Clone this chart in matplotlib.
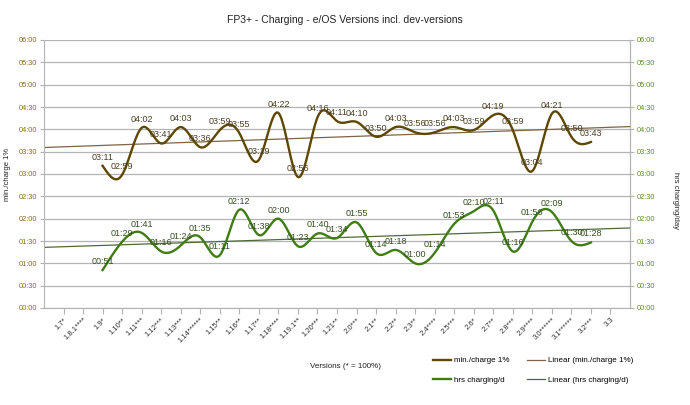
import numpy as np
import matplotlib
matplotlib.use("Agg")
import matplotlib.pyplot as plt
from matplotlib.ticker import FuncFormatter, MultipleLocator

plt.rcParams.update({
    "font.family": ["Liberation Sans", "DejaVu Sans"],
})

# Versions on the x axis
versions = ["1.7*", "1.8.1****", "1.9*", "1.10**", "1.11***", "1.12***", "1.13***",
            "1.14******", "1.15**", "1.16**", "1.17**", "1.18****", "1.19.1**",
            "1.20***", "1.21**", "2.0***", "2.1**", "2.2**", "2.3**", "2.4****",
            "2.5***", "2.6*", "2.7**", "2.8***", "2.9****", "3.0******", "3.1******",
            "3.2***", "3.3"]

# series start at 1.9 and end at 3.2
first_idx = 2
min_charge = ["03:11", "02:59", "04:02", "03:41", "04:03", "03:36", "03:59", "03:55",
              "03:19", "04:22", "02:56", "04:16", "04:11", "04:10", "03:50", "04:03",
              "03:56", "03:56", "04:03", "03:59", "04:19", "03:59", "03:04", "04:21",
              "03:50", "03:43"]
hrs_charging = ["00:51", "01:29", "01:41", "01:16", "01:24", "01:35", "01:11", "02:12",
                "01:38", "02:00", "01:23", "01:40", "01:34", "01:55", "01:14", "01:18",
                "01:00", "01:14", "01:53", "02:10", "02:11", "01:16", "01:56", "02:09",
                "01:30", "01:28"]


def to_min(s):
    h, m = s.split(":")
    return int(h) * 60 + int(m)


def smooth(x, y, n=24):
    # natural cubic spline, like the office "cubic spline" line type
    x = np.asarray(x, float)
    y = np.asarray(y, float)
    k = len(x)
    h = np.diff(x)
    A = np.zeros((k, k))
    b = np.zeros(k)
    A[0, 0] = A[-1, -1] = 1
    for i in range(1, k - 1):
        A[i, i - 1] = h[i - 1]
        A[i, i] = 2 * (h[i - 1] + h[i])
        A[i, i + 1] = h[i]
        b[i] = 6 * ((y[i + 1] - y[i]) / h[i] - (y[i] - y[i - 1]) / h[i - 1])
    M = np.linalg.solve(A, b)
    xs, ys = [], []
    for i in range(k - 1):
        t = np.linspace(x[i], x[i + 1], n, endpoint=(i == k - 2))
        a = x[i + 1] - t
        c = t - x[i]
        s = (M[i] * a**3 + M[i + 1] * c**3) / (6 * h[i]) \
            + (y[i] / h[i] - M[i] * h[i] / 6) * a \
            + (y[i + 1] / h[i] - M[i + 1] * h[i] / 6) * c
        xs.append(t)
        ys.append(s)
    return np.concatenate(xs), np.concatenate(ys)


def hhmm(v, pos=None):
    v = int(round(v))
    return "%02d:%02d" % (v // 60, v % 60)


brown = "#5e4700"
green = "#3f7c14"
trend_brown = "#7d6545"
trend_green = "#4e6a36"
grid_col = "#b3b3b3"

x_all = np.arange(len(versions))
xm = x_all[first_idx:first_idx + len(min_charge)]
ym = np.array([to_min(s) for s in min_charge])
yh = np.array([to_min(s) for s in hrs_charging])

fig = plt.figure(figsize=(6.9, 4.05), dpi=100)
ax = fig.add_axes([44 / 690, 1 - 308 / 405, 586 / 690, 268 / 405])

ax.set_xlim(-1, len(versions))
ax.set_ylim(0, 360)
ax.yaxis.set_major_locator(MultipleLocator(30))
ax.yaxis.set_major_formatter(FuncFormatter(hhmm))
ax.grid(axis="y", color=grid_col, linewidth=0.9)
ax.set_axisbelow(True)

# trend lines over the whole axis
xt = np.array([-1, len(versions)])
pm = np.polyfit(xm, ym, 1)
ph = np.polyfit(xm, yh, 1)
lm_trend, = ax.plot(xt, np.polyval(pm, xt), color=trend_brown, lw=0.9,
                    label="Linear (min./charge 1%)")
lh_trend, = ax.plot(xt, np.polyval(ph, xt), color=trend_green, lw=0.9,
                    label="Linear (hrs charging/d)")

sx, sy = smooth(xm, ym)
lm, = ax.plot(sx, sy, color=brown, lw=1.7, label="min./charge 1%")
sx, sy = smooth(xm, yh)
lh, = ax.plot(sx, sy, color=green, lw=1.7, label="hrs charging/d")

for xi, yi, s in zip(xm, ym, min_charge):
    ax.annotate(s, (xi, yi), xytext=(0, 3), textcoords="offset points",
                ha="center", va="bottom", fontsize=6.5, color="#4a3f22")
for xi, yi, s in zip(xm, yh, hrs_charging):
    ax.annotate(s, (xi, yi), xytext=(0, 3), textcoords="offset points",
                ha="center", va="bottom", fontsize=6.5, color="#34501f")

ax.set_xticks(x_all)
ax.set_xticklabels(versions, rotation=45, ha="right", va="top",
                   rotation_mode="anchor", fontsize=5.5, color="#333333")
ax.tick_params(axis="x", length=4, color=grid_col, pad=2)
ax.tick_params(axis="y", length=3, color=grid_col, labelsize=5.3,
               labelcolor="#8a6a1c", pad=2)

for side in ["top"]:
    ax.spines[side].set_visible(False)
for side in ["left", "right", "bottom"]:
    ax.spines[side].set_color(grid_col)

ax2 = ax.twinx()
ax2.set_ylim(0, 360)
ax2.yaxis.set_major_locator(MultipleLocator(30))
ax2.yaxis.set_major_formatter(FuncFormatter(hhmm))
ax2.tick_params(axis="y", length=3, color=grid_col, labelsize=5.3,
                labelcolor="#5b8f22", pad=2)
for side in ["top", "left", "bottom"]:
    ax2.spines[side].set_visible(False)
ax2.spines["right"].set_color(grid_col)

fig.text(345 / 690, 1 - 20 / 405, "FP3+ - Charging - e/OS Versions incl. dev-versions",
         ha="center", va="center", fontsize=7.5, color="#222222")
fig.text(8 / 690, 1 - 174 / 405, "min./charge 1%", rotation=90,
         ha="center", va="center", fontsize=5.5, color="#222222")
fig.text(675 / 690, 1 - 200 / 405, "hrs charging/day", rotation=270,
         ha="center", va="center", fontsize=5.5, color="#222222")
fig.text(345 / 690, 1 - 367 / 405, "Versions (* = 100%)",
         ha="center", va="center", fontsize=5.8, color="#222222")

fig.legend(handles=[lm, lh, lm_trend, lh_trend], ncol=2, fontsize=5.8,
           loc="center left", bbox_to_anchor=(426 / 690, 1 - 370.5 / 405),
           frameon=False, handlelength=2.2, handletextpad=0.4,
           columnspacing=2.2, labelspacing=1.5)

fig.savefig("out.png", dpi=100)
